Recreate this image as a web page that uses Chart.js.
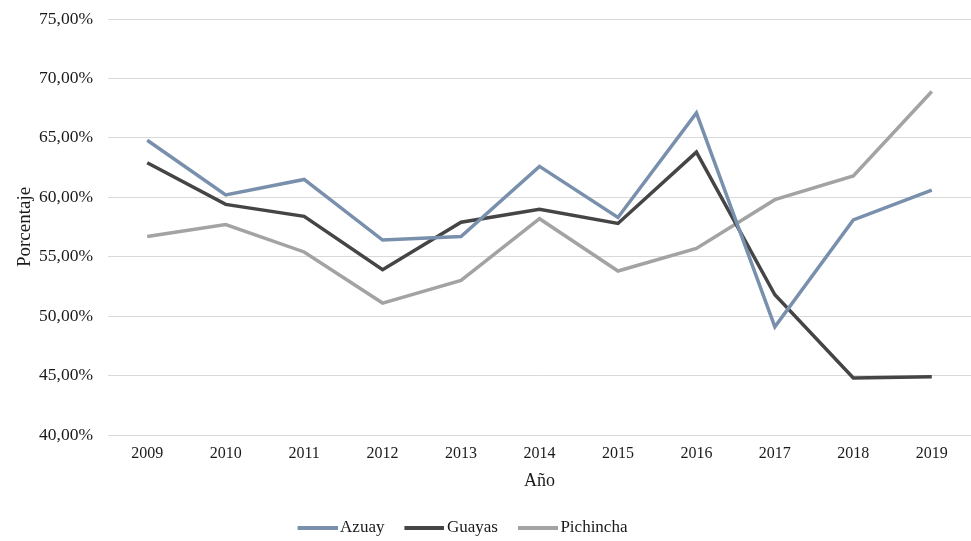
<!DOCTYPE html>
<html>
<head>
<meta charset="utf-8">
<script src="https://cdn.jsdelivr.net/npm/chart.js@4.4.0/dist/chart.umd.min.js"></script>
<style>
  html, body { margin: 0; padding: 0; background: #fff; }
  #wrap { width: 971px; height: 541px; position: relative; }
</style>
</head>
<body>
<div id="wrap"><canvas id="chart"></canvas></div>
<script>
// ── Data ─────────────────────────────────────────────────────────
const years = ['2009','2010','2011','2012','2013','2014','2015','2016','2017','2018','2019'];
const azuay     = [64.8, 60.2, 61.5, 56.4, 56.7, 62.6, 58.3, 67.1, 49.1, 58.1, 60.6];
const guayas    = [62.9, 59.4, 58.4, 53.9, 57.9, 59.0, 57.8, 63.8, 51.8, 44.8, 44.9];
const pichincha = [56.7, 57.7, 55.4, 51.1, 53.0, 58.2, 53.8, 55.7, 59.8, 61.8, 68.9];
const yTicks = [40, 45, 50, 55, 60, 65, 70, 75];

const serif = "'Liberation Serif', 'Times New Roman', serif";
const fmtPct = v => v.toFixed(2).replace('.', ',') + '%';

// legend swatch: 40px line pushed right inside a wider image so the label hugs it
const swatch = color => {
  const c = document.createElement('canvas');
  c.width = 52; c.height = 6;
  const g = c.getContext('2d');
  g.fillStyle = color;
  g.fillRect(12, 1, 40, 4);
  return c;
};

const line = (label, data, color) => ({
  label, data, borderColor: color, backgroundColor: color,
  borderWidth: 3.5, pointRadius: 0, tension: 0, fill: false,
  pointStyle: swatch(color)
});

// the legend in the reference sits a little left of the page centre
const shiftLegend = {
  id: 'shiftLegend',
  afterLayout: chart => { chart.legend.left -= 26; chart.legend.right -= 26; }
};

new Chart(document.getElementById('chart'), {
  type: 'line',
  data: {
    labels: years,
    datasets: [
      line('Azuay', azuay, '#7990ad'),
      line('Guayas', guayas, '#454545'),
      line('Pichincha', pichincha, '#a3a3a3')
    ]
  },
  plugins: [shiftLegend],
  options: {
    responsive: true,
    maintainAspectRatio: false,
    animation: false,
    layout: { padding: { top: 19, right: 0, left: 0, bottom: -5.5 } },
    plugins: {
      tooltip: { enabled: false },
      legend: {
        position: 'bottom',
        labels: {
          color: '#1a1a1a', font: { family: serif, size: 17 },
          usePointStyle: true, pointStyleWidth: 40, padding: 14
        }
      }
    },
    scales: {
      x: {
        offset: true,
        afterFit: s => { s.height = 70.5; },
        grid: { display: false, drawTicks: false },
        border: { display: false },
        ticks: { color: '#1a1a1a', font: { family: serif, size: 16 }, padding: 9, maxRotation: 0 },
        title: { display: true, text: 'Año', color: '#1a1a1a', font: { family: serif, size: 18 }, padding: { top: 0, bottom: 13.7 } }
      },
      y: {
        min: 40, max: 75,
        afterBuildTicks: s => { s.ticks = yTicks.map(v => ({ value: v })); },
        afterFit: s => { s.width = 108; s.paddingTop = 0; s.paddingBottom = 0; },
        grid: { color: '#d9d9d9', lineWidth: 1, drawTicks: false },
        border: { display: false },
        ticks: { color: '#1a1a1a', font: { family: serif, size: 17.5 }, padding: 15, callback: v => fmtPct(v) },
        title: { display: true, text: 'Porcentaje', color: '#1a1a1a', font: { family: serif, size: 19 }, padding: { top: 14, bottom: 0 } }
      }
    }
  }
});
</script>
</body>
</html>
